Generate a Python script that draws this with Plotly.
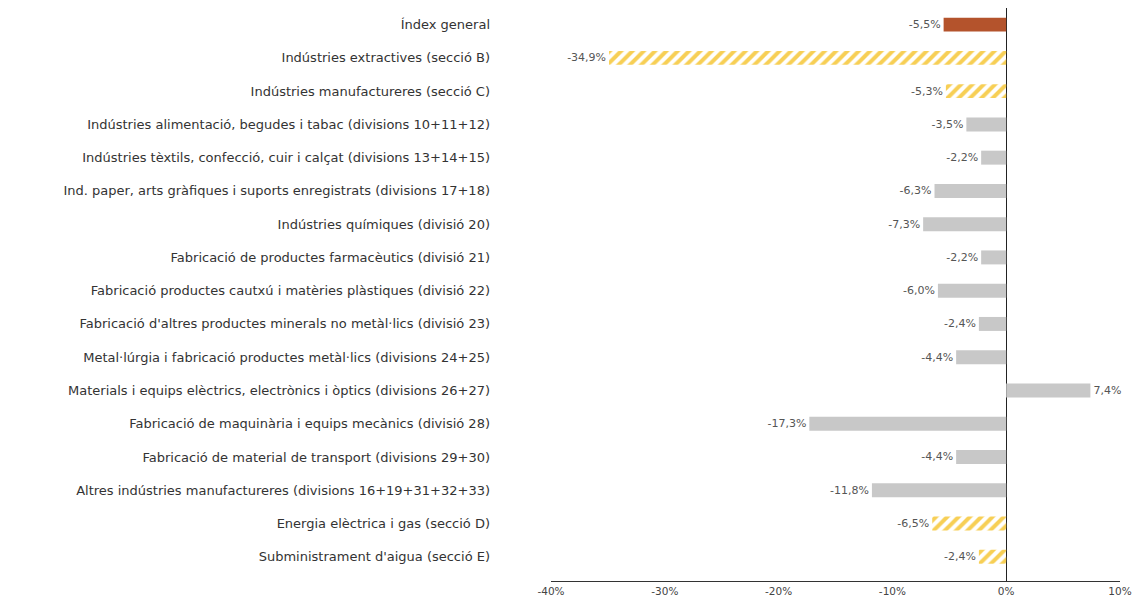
import plotly.graph_objects as go

# dades
categories = [
    "Índex general",
    "Indústries extractives (secció B)",
    "Indústries manufactureres (secció C)",
    "Indústries alimentació, begudes i tabac (divisions 10+11+12)",
    "Indústries tèxtils, confecció, cuir i calçat (divisions 13+14+15)",
    "Ind. paper, arts gràfiques i suports enregistrats (divisions 17+18)",
    "Indústries químiques (divisió 20)",
    "Fabricació de productes farmacèutics (divisió 21)",
    "Fabricació productes cautxú i matèries plàstiques (divisió 22)",
    "Fabricació d'altres productes minerals no metàl·lics (divisió 23)",
    "Metal·lúrgia i fabricació productes metàl·lics (divisions 24+25)",
    "Materials i equips elèctrics, electrònics i òptics (divisions 26+27)",
    "Fabricació de maquinària i equips mecànics (divisió 28)",
    "Fabricació de material de transport (divisions 29+30)",
    "Altres indústries manufactureres (divisions 16+19+31+32+33)",
    "Energia elèctrica i gas (secció D)",
    "Subministrament d'aigua (secció E)",
]
values = [-5.5, -34.9, -5.3, -3.5, -2.2, -6.3, -7.3, -2.2, -6.0, -2.4,
          -4.4, 7.4, -17.3, -4.4, -11.8, -6.5, -2.4]
kinds = ["general", "seccio", "seccio", "divisio", "divisio", "divisio",
         "divisio", "divisio", "divisio", "divisio", "divisio", "divisio",
         "divisio", "divisio", "divisio", "seccio", "seccio"]
tick_vals = [-40, -30, -20, -10, 0, 10]
tick_text = ["-40%", "-30%", "-20%", "-10%", "0%", "10%"]

# colors
GENERAL = "#b4532c"
SECCIO = "#f7cf55"
DIVISIO = "#c8c8c8"

colors = {"general": GENERAL, "seccio": SECCIO, "divisio": DIVISIO}
bar_colors = [colors[k] for k in kinds]
shapes = ["/" if k == "seccio" else "" for k in kinds]
labels = [f"{v:.1f}%".replace(".", ",") for v in values]

fig = go.Figure()
fig.add_trace(go.Bar(
    x=values,
    y=categories,
    orientation="h",
    width=0.42,
    marker=dict(
        color=bar_colors,
        line=dict(width=0),
        pattern=dict(shape=shapes, fgcolor=bar_colors, bgcolor="white",
                     fillmode="replace", size=8, solidity=0.5),
    ),
    text=labels,
    textposition="outside",
    textfont=dict(family="DejaVu Sans, sans-serif", size=11, color="#555555"),
    cliponaxis=False,
    showlegend=False,
))

fig.update_layout(
    width=1135,
    height=598,
    margin=dict(l=551, r=15, t=8, b=17, autoexpand=False),
    paper_bgcolor="white",
    plot_bgcolor="white",
    font=dict(family="DejaVu Sans, sans-serif", color="#333333"),
)
fig.update_xaxes(
    range=[-40, 10],
    tickvals=tick_vals,
    ticktext=tick_text,
    tickfont=dict(size=10.5, color="#444444"),
    ticklabeloverflow="allow",
    showgrid=False,
    zeroline=True,
    zerolinecolor="#222222",
    zerolinewidth=1,
    showline=True,
    linecolor="#333333",
    linewidth=1,
    ticks="",
    automargin=False,
)
fig.update_yaxes(
    categoryorder="array",
    categoryarray=categories,
    autorange=False,
    range=[16.73, -0.5],
    showgrid=False,
    tickfont=dict(size=13, color="#333333"),
    ticks="",
    ticklabelstandoff=60,
    automargin=False,
)

# drop the default 8px body margin so the figure fills the window exactly
fig.write_html(
    "out.html",
    config={"displayModeBar": False},
    post_script="document.body.style.margin='0';",
)
